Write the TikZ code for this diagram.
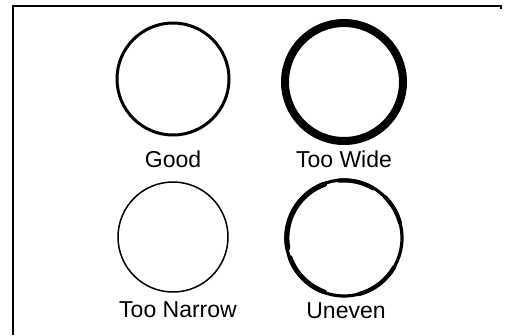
\documentclass[tikz,border=0pt]{standalone}
\usepackage{fontspec}
\setmainfont{Liberation Sans}
\usetikzlibrary{positioning}

\begin{document}
\begin{tikzpicture}[
    x=1pt, y=-1pt,
    ring/.style={draw, circle, inner sep=0pt},
    lbl/.style={anchor=base, inner sep=0pt,
                font=\fontsize{23}{26}\selectfont},
    bump/.style={line width=#1, line cap=round},
  ]
  \useasboundingbox (0,0) rectangle (508,335);

  % --- grid geometry ---
  \def\colA{173}  \def\colB{344}
  \def\rowA{79}   \def\rowB{238}

  % --- frame (open at right and bottom) ---
  \draw[line width=1.2] (13,335) -- (13,6) -- (501,6) -- (501,9);

  % --- top row ---
  \node[ring, line width=3, minimum size=112] (good) at (\colA,\rowA) {};
  \node[ring, line width=8, minimum size=118] (wide) at (\colB,82) {};
  \node[lbl] (goodlbl) at (\colA,167) {Good};
  \node[lbl] (widelbl) at (\colB,167) {Too Wide};

  % --- bottom row ---
  \node[ring, line width=3.2, minimum size=116] (uneven) at (\colB,\rowB) {};
  \node[ring, line width=1.5, minimum size=110] (narrow) at (\colA,237) {};
  % uneven: thicker patches round the ring
  \draw[bump=4.8] (uneven.center) ++(110:57.4) arc[start angle=110, end angle=160, radius=57.4];
  \draw[bump=5.2] (uneven.center) ++(170:57.2) arc[start angle=170, end angle=250, radius=57.2];
  \draw[bump=4.2] (uneven.center) ++(265:57.6) arc[start angle=265, end angle=300, radius=57.6];
  \draw[bump=4.2] (uneven.center) ++(30:58) arc[start angle=30, end angle=75, radius=58];
  \draw[bump=4] (uneven.center) ++(-45:58) arc[start angle=-45, end angle=-15, radius=58];
  \node[lbl] (narrowlbl) at (178,317) {Too Narrow};
  \node[lbl] (unevenlbl) at (346,318) {Uneven};
\end{tikzpicture}
\end{document}
